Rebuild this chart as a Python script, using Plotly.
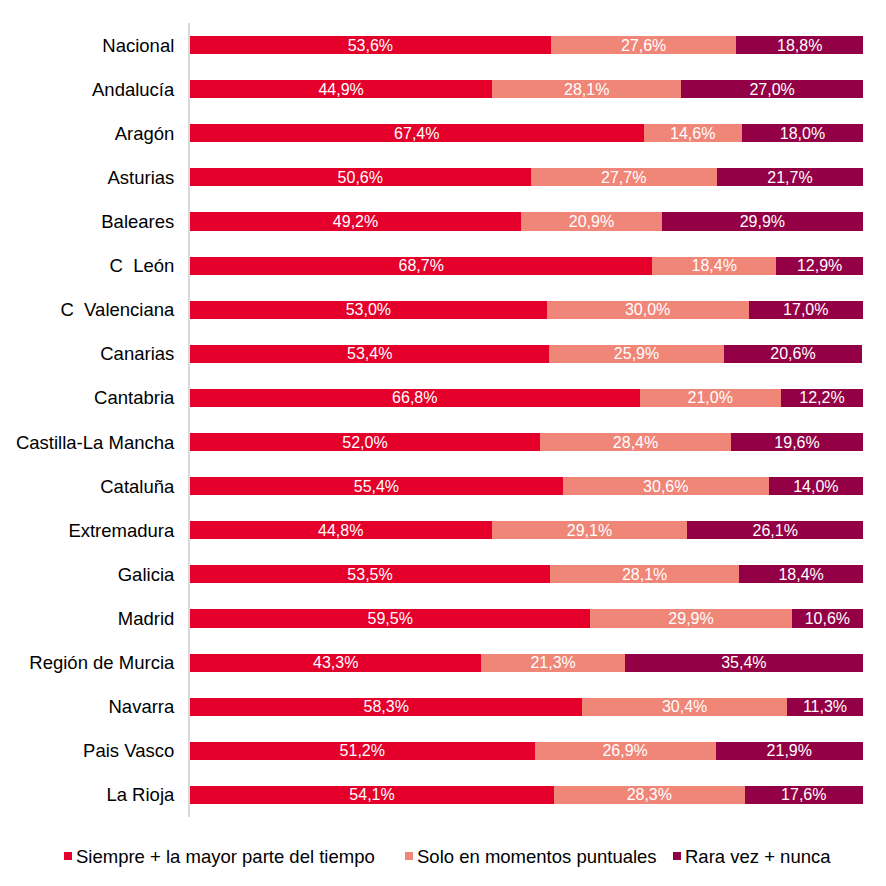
import plotly.graph_objects as go

categories = ["Nacional", "Andalucía", "Aragón", "Asturias", "Baleares", "C\u00a0\u00a0León",
              "C\u00a0\u00a0Valenciana", "Canarias", "Cantabria", "Castilla-La Mancha", "Cataluña",
              "Extremadura", "Galicia", "Madrid", "Región de Murcia", "Navarra", "Pais Vasco", "La Rioja"]
siempre = [53.6, 44.9, 67.4, 50.6, 49.2, 68.7, 53.0, 53.4, 66.8, 52.0, 55.4, 44.8, 53.5, 59.5, 43.3, 58.3, 51.2, 54.1]
solo = [27.6, 28.1, 14.6, 27.7, 20.9, 18.4, 30.0, 25.9, 21.0, 28.4, 30.6, 29.1, 28.1, 29.9, 21.3, 30.4, 26.9, 28.3]
rara = [18.8, 27.0, 18.0, 21.7, 29.9, 12.9, 17.0, 20.6, 12.2, 19.6, 14.0, 26.1, 18.4, 10.6, 35.4, 11.3, 21.9, 17.6]
series_names = ["Siempre + la mayor parte del tiempo", "Solo en momentos puntuales", "Rara vez + nunca"]
colors = ["#E4002B", "#F08678", "#930045"]

FONT = "Liberation Sans, Arial, sans-serif"
W = H = 870
L, R, T, B = 182, 15, 15, 61
PW, PH = W - L - R, H - T - B


def fmt(v):
    return f"{v:.1f}%".replace(".", ",")


def px_x(px):
    return (px - L) / PW


def px_y(py):
    return (H - B - py) / PH


fig = go.Figure()
for name, vals, col in zip(series_names, [siempre, solo, rara], colors):
    fig.add_trace(go.Bar(
        y=categories, x=vals, name=name, orientation="h",
        marker=dict(color=col, line=dict(width=0)),
        text=[fmt(v) for v in vals], textposition="inside", insidetextanchor="middle",
        textangle=0, constraintext="none",
        textfont=dict(color="white", size=16, family=FONT),
        hoverinfo="skip", showlegend=False,
    ))

# manual legend (small square markers like the reference)
leg_marker_x = [56, 397, 665]
leg_y = 848
for name, col, mx in zip(series_names, colors, leg_marker_x):
    fig.add_shape(type="rect", xref="paper", yref="paper",
                  x0=px_x(mx), x1=px_x(mx + 8), y0=px_y(leg_y - 4), y1=px_y(leg_y + 4),
                  fillcolor=col, line=dict(width=0))
    fig.add_annotation(xref="paper", yref="paper", x=px_x(mx + 10), y=px_y(leg_y),
                       xanchor="left", yanchor="middle", text=name, showarrow=False,
                       font=dict(size=18.5, color="#000000", family=FONT))

fig.update_layout(
    barmode="stack", bargap=0.59,
    width=W, height=H,
    margin=dict(l=L, r=R, t=T, b=B, autoexpand=False),
    plot_bgcolor="white", paper_bgcolor="white",
    font=dict(family=FONT, size=18.5, color="#000000"),
    xaxis=dict(range=[0, 100], visible=False, fixedrange=True),
    yaxis=dict(autorange="reversed", showline=True, linecolor="#D9D9D9", linewidth=2,
               ticks="", ticklabelstandoff=10, showgrid=False, zeroline=False,
               tickfont=dict(size=18.5, color="#000000", family=FONT)),
    showlegend=False,
)

fig.write_html("out.html")
